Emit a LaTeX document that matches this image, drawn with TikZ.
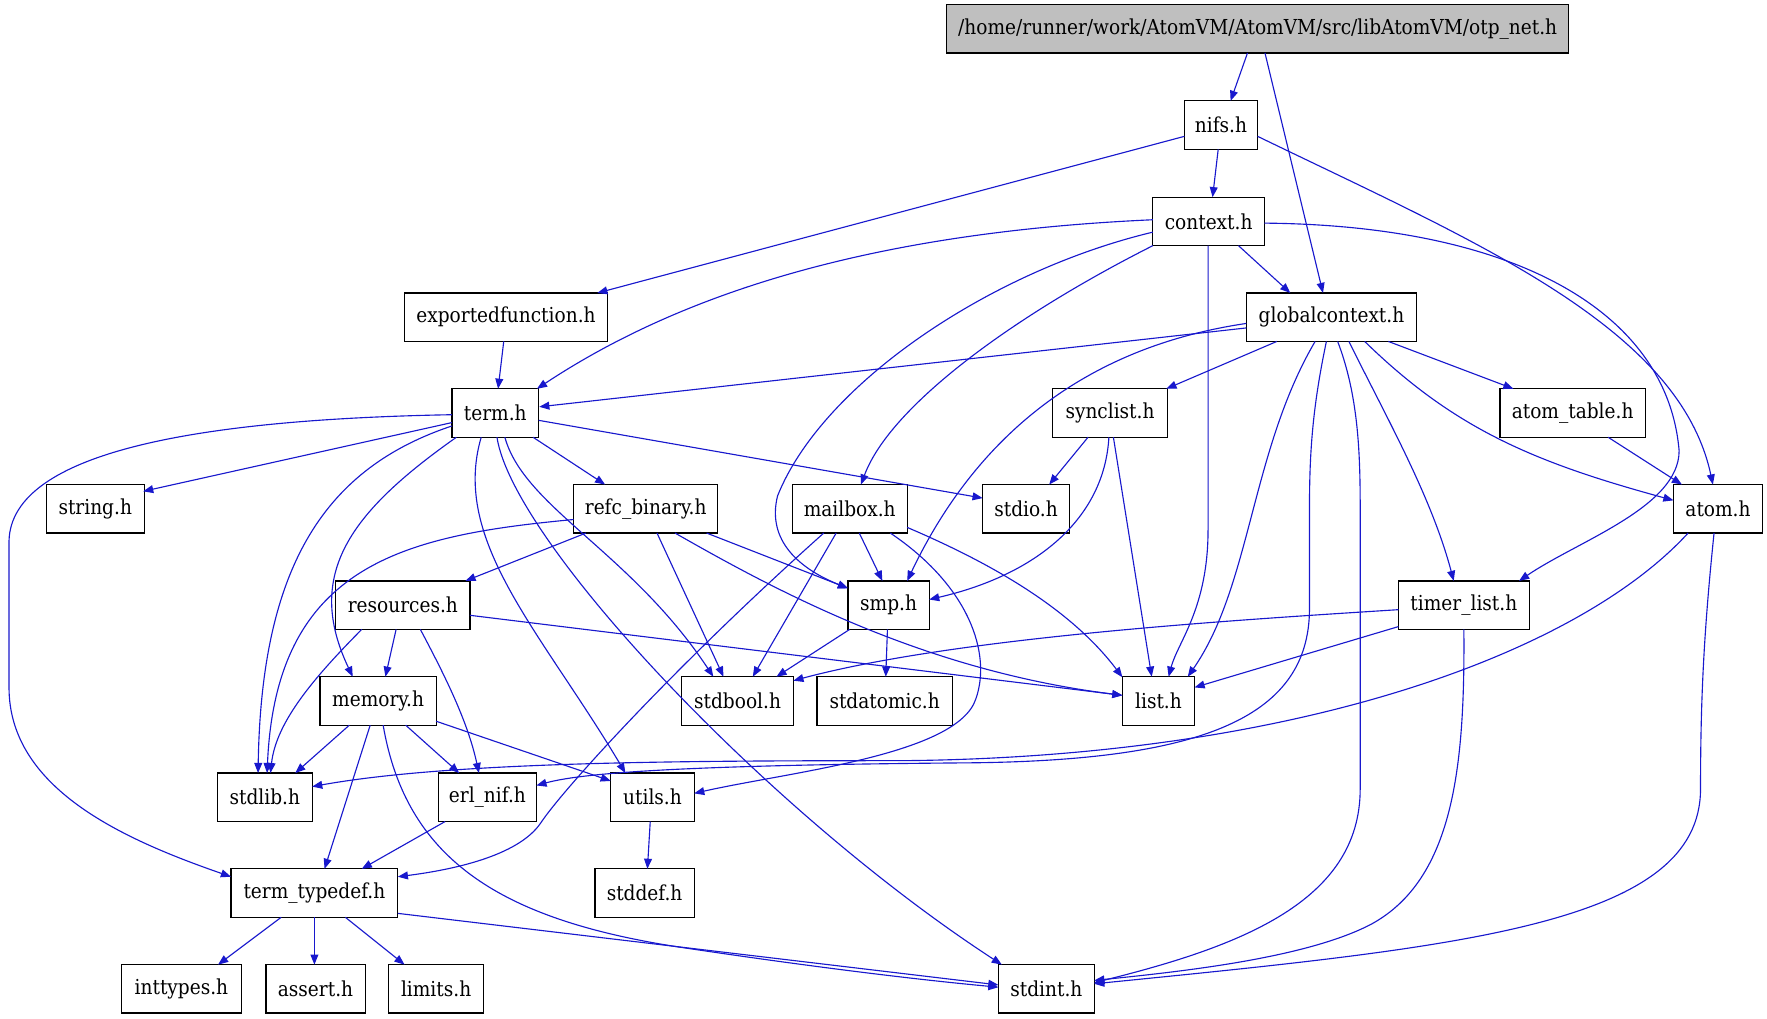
\documentclass[tikz,border=0pt]{standalone}
\usepackage{fontspec}
\setmainfont{DejaVu Serif Condensed}
\usetikzlibrary{arrows.meta,calc}
\definecolor{edgeblue}{RGB}{24,24,205}
\definecolor{topgray}{RGB}{191,191,191}
\begin{document}
\begin{tikzpicture}[x=1pt,y=-1pt,
  box/.style={draw=black,line width=1.1pt,fill=white,minimum height=43pt,inner sep=0pt,font=\fontsize{18.3}{22}\selectfont},
  topbox/.style={box,fill=topgray},
  dep/.style={draw=edgeblue,line width=1pt,-{Triangle[length=9pt,width=7pt]}}]
\useasboundingbox (0,0) rectangle (1568,904);
% nodes
\node[topbox,minimum width=552pt] (otp) at (1116,25.5) {/home/runner/work/AtomVM/AtomVM/src/libAtomVM/otp\_net.h};
\node[box,minimum width=65pt] (nifs) at (1083.5,111) {nifs.h};
\node[box,minimum width=99pt] (context) at (1072.5,196.5) {context.h};
\node[box,minimum width=180pt] (expf) at (449,281.5) {exportedfunction.h};
\node[box,minimum width=151pt] (gctx) at (1181.5,281.5) {globalcontext.h};
\node[box,minimum width=77pt] (term) at (439.5,366.5) {term.h};
\node[box,minimum width=102pt] (synclist) at (985,366.5) {synclist.h};
\node[box,minimum width=129pt] (atomtable) at (1395.5,366.5) {atom\_table.h};
\node[box,minimum width=87pt] (string) at (84.5,451.5) {string.h};
\node[box,minimum width=128pt] (refc) at (573,451.5) {refc\_binary.h};
\node[box,minimum width=102pt] (mailbox) at (754,451.5) {mailbox.h};
\node[box,minimum width=77pt] (stdio) at (910.5,451.5) {stdio.h};
\node[box,minimum width=79pt] (atom) at (1524.5,451.5) {atom.h};
\node[box,minimum width=119pt] (resources) at (357.5,537) {resources.h};
\node[box,minimum width=72pt] (smp) at (788.5,537) {smp.h};
\node[box,minimum width=116pt] (timer) at (1299,537) {timer\_list.h};
\node[box,minimum width=103pt] (memory) at (335.5,622) {memory.h};
\node[box,minimum width=99pt] (stdbool) at (654.5,622) {stdbool.h};
\node[box,minimum width=120pt] (stdatomic) at (785,622) {stdatomic.h};
\node[box,minimum width=64pt] (list) at (1028,622) {list.h};
\node[box,minimum width=84pt] (stdlib) at (235,707.5) {stdlib.h};
\node[box,minimum width=87pt] (erlnif) at (432.5,707.5) {erl\_nif.h};
\node[box,minimum width=74pt] (utils) at (579,707.5) {utils.h};
\node[box,minimum width=148pt] (termtd) at (279,792.5) {term\_typedef.h};
\node[box,minimum width=88pt] (stddef) at (572,792.5) {stddef.h};
\node[box,minimum width=106pt] (inttypes) at (161,877.5) {inttypes.h};
\node[box,minimum width=88pt] (assert) at (280,877.5) {assert.h};
\node[box,minimum width=84pt] (limits) at (387,877.5) {limits.h};
\node[box,minimum width=85pt] (stdint) at (928.5,877.5) {stdint.h};
% edges
\draw[dep] ($(otp)+(-9,21.5)$) -- ($(nifs)+(8.5,-21.5)$);
\draw[dep] ($(otp)+(6.5,21.5)$) -- ($(gctx)+(-7.5,-21.5)$);
\draw[dep] ($(nifs)+(-2.5,21.5)$) -- ($(context)+(3.5,-21.5)$);
\draw[dep] ($(nifs)+(-32.5,10)$) -- ($(expf)+(81,-21.5)$);
\draw[dep] ($(nifs)+(32.5,10)$) .. controls (1310,215) and (1490,290) .. ($(atom)+(-4.5,-21.5)$);
\draw[dep] ($(context)+(26.5,21.5)$) -- ($(gctx)+(-36.5,-21.5)$);
\draw[dep] ($(context)+(-49.5,-1.5)$) .. controls (800,205) and (620,250) .. ($(term)+(37,-21.5)$);
\draw[dep] ($(context)+(-49.5,9.5)$) .. controls (880,240) and (730,340) .. (690,440) .. controls (680,480) and (710,505) .. ($(smp)+(-36,-15)$);
\draw[dep] ($(context)+(-49.5,21.5)$) .. controls (900,280) and (790,360) .. ($(mailbox)+(10,-21.5)$);
\draw[dep] ($(context)+(-0.5,21.5)$) -- (1072,470) .. controls (1072,540) and (1045,570) .. ($(list)+(9,-21.5)$);
\draw[dep] ($(context)+(49.5,1.5)$) .. controls (1350,200) and (1480,280) .. (1490,400) .. controls (1490,450) and (1400,480) .. ($(timer)+(49,-21.5)$);
\draw[dep] ($(gctx)+(-75.5,9.5)$) -- ($(term)+(39,-5.5)$);
\draw[dep] ($(gctx)+(-75.5,5.5)$) .. controls (950,310) and (860,400) .. ($(smp)+(16.5,-21.5)$);
\draw[dep] ($(gctx)+(-48.5,21.5)$) -- ($(synclist)+(50,-21.5)$);
\draw[dep] ($(gctx)+(50.5,21.5)$) -- ($(atomtable)+(-52.5,-21.5)$);
\draw[dep] ($(gctx)+(29.5,21.5)$) .. controls (1290,380) and (1360,410) .. ($(atom)+(-39.5,-7.5)$);
\draw[dep] ($(gctx)+(15.5,21.5)$) .. controls (1230,370) and (1270,440) .. ($(timer)+(-9,-21.5)$);
\draw[dep] ($(gctx)+(5.5,21.5)$) .. controls (1205,350) and (1207,400) .. (1207,450) -- (1207,700) .. controls (1207,800) and (1100,840) .. ($(stdint)+(42.5,-5.5)$);
\draw[dep] ($(gctx)+(-4.5,21.5)$) .. controls (1165,360) and (1162,400) .. (1162,450) -- (1162,540) .. controls (1162,640) and (1060,676) .. (850,677) .. controls (620,679) and (520,685) .. ($(erlnif)+(43.5,-10.5)$);
\draw[dep] ($(gctx)+(-14.5,21.5)$) .. controls (1110,400) and (1110,520) .. ($(list)+(26,-21.5)$);
\draw[dep] ($(expf)+(-2,21.5)$) -- ($(term)+(2.5,-21.5)$);
\draw[dep] ($(term)+(-38.5,8.5)$) -- ($(string)+(42.5,-15.5)$);
\draw[dep] ($(term)+(-38.5,1.5)$) .. controls (180,372) and (10,400) .. (8,480) -- (8,610) .. controls (8,700) and (110,745) .. ($(termtd)+(-74,-14.5)$);
\draw[dep] ($(term)+(-38.5,11.5)$) .. controls (290,415) and (232,500) .. ($(stdlib)+(-6,-21.5)$);
\draw[dep] ($(term)+(-34.5,21.5)$) .. controls (310,455) and (270,510) .. ($(memory)+(-22.5,-21.5)$);
\draw[dep] ($(term)+(-12.5,21.5)$) .. controls (400,480) and (480,560) .. ($(utils)+(-24,-21.5)$);
\draw[dep] ($(term)+(1.5,21.5)$) .. controls (455,480) and (680,720) .. ($(stdint)+(-39.5,-21.5)$);
\draw[dep] ($(term)+(8.5,21.5)$) .. controls (465,450) and (560,490) .. ($(stdbool)+(-21.5,-21.5)$);
\draw[dep] ($(term)+(33.5,21.5)$) -- ($(refc)+(-36,-21.5)$);
\draw[dep] ($(term)+(38.5,6.5)$) -- ($(stdio)+(-38.5,-9.5)$);
\draw[dep] ($(synclist)+(-19.5,21.5)$) -- ($(stdio)+(20.5,-21.5)$);
\draw[dep] ($(synclist)+(-1,21.5)$) .. controls (980,460) and (920,510) .. ($(smp)+(36,-5)$);
\draw[dep] ($(synclist)+(3,21.5)$) -- ($(list)+(-6,-21.5)$);
\draw[dep] ($(atomtable)+(31.5,21.5)$) -- ($(atom)+(-32,-21.5)$);
\draw[dep] ($(atom)+(-26.5,21.5)$) .. controls (1400,580) and (1150,672) .. (800,675) .. controls (600,675) and (400,676) .. ($(stdlib)+(42,-9.5)$);
\draw[dep] ($(atom)+(-3.5,21.5)$) .. controls (1512,560) and (1509,620) .. (1509,700) .. controls (1509,820) and (1300,840) .. ($(stdint)+(42.5,-4.5)$);
\draw[dep] ($(timer)+(-58,19)$) -- ($(list)+(32,-12)$);
\draw[dep] ($(timer)+(-58,4)$) .. controls (1100,550) and (850,565) .. ($(stdbool)+(49.5,-18)$);
\draw[dep] ($(timer)+(0,21.5)$) .. controls (1300,680) and (1290,780) .. (1217,820) .. controls (1160,850) and (1050,862) .. ($(stdint)+(42.5,-7.5)$);
\draw[dep] ($(refc)+(-53,21.5)$) -- ($(resources)+(55.5,-21.5)$);
\draw[dep] ($(refc)+(-64,9.5)$) .. controls (360,475) and (245,500) .. ($(stdlib)+(2,-21.5)$);
\draw[dep] ($(refc)+(10,21.5)$) -- ($(stdbool)+(-12.5,-21.5)$);
\draw[dep] ($(refc)+(54,21.5)$) -- ($(smp)+(-36,-15)$);
\draw[dep] ($(refc)+(26,21.5)$) .. controls (690,525) and (820,595) .. ($(list)+(-32,-5)$);
\draw[dep] ($(mailbox)+(8.5,21.5)$) -- ($(smp)+(-5.5,-21.5)$);
\draw[dep] ($(mailbox)+(-12,21.5)$) -- ($(stdbool)+(13.5,-21.5)$);
\draw[dep] ($(mailbox)+(-23,21.5)$) .. controls (600,590) and (500,700) .. (480,730) .. controls (460,760) and (400,772) .. ($(termtd)+(74,-14.5)$);
\draw[dep] ($(mailbox)+(36,21.5)$) .. controls (860,520) and (880,580) .. (866,620) .. controls (850,670) and (700,685) .. ($(utils)+(37,-3.5)$);
\draw[dep] ($(mailbox)+(51,16.5)$) .. controls (880,500) and (950,540) .. ($(list)+(-32,-21)$);
\draw[dep] ($(smp)+(-34.5,21.5)$) -- ($(stdbool)+(34.5,-21.5)$);
\draw[dep] ($(smp)+(-1,21.5)$) -- ($(stdatomic)+(1,-21.5)$);
\draw[dep] ($(resources)+(-6,21.5)$) -- ($(memory)+(6.5,-21.5)$);
\draw[dep] ($(resources)+(-36.5,21.5)$) .. controls (280,600) and (245,640) .. ($(stdlib)+(5,-21.5)$);
\draw[dep] ($(resources)+(15.5,21.5)$) .. controls (395,600) and (415,640) .. ($(erlnif)+(-7.5,-21.5)$);
\draw[dep] ($(resources)+(59.5,9)$) -- ($(list)+(-32,-5)$);
\draw[dep] ($(memory)+(-25.5,21.5)$) -- ($(stdlib)+(27,-21.5)$);
\draw[dep] ($(memory)+(24.5,21.5)$) -- ($(erlnif)+(-25,-21.5)$);
\draw[dep] ($(memory)+(51.5,18)$) -- ($(utils)+(-37,-14.5)$);
\draw[dep] ($(memory)+(-7,21.5)$) -- ($(termtd)+(9,-21.5)$);
\draw[dep] ($(memory)+(4.5,21.5)$) .. controls (360,760) and (440,815) .. (600,840) .. controls (700,855) and (800,868) .. ($(stdint)+(-42.5,-1.5)$);
\draw[dep] ($(erlnif)+(-37.5,21.5)$) -- ($(termtd)+(42,-21.5)$);
\draw[dep] ($(utils)+(-2,21.5)$) -- ($(stddef)+(2.5,-21.5)$);
\draw[dep] ($(termtd)+(-29.5,21.5)$) -- ($(inttypes)+(32.5,-21.5)$);
\draw[dep] ($(termtd)+(0,21.5)$) -- ($(assert)+(-1,-21.5)$);
\draw[dep] ($(termtd)+(27.5,21.5)$) -- ($(limits)+(-28,-21.5)$);
\draw[dep] ($(termtd)+(74,18)$) -- ($(stdint)+(-42.5,-3.5)$);
\end{tikzpicture}
\end{document}
